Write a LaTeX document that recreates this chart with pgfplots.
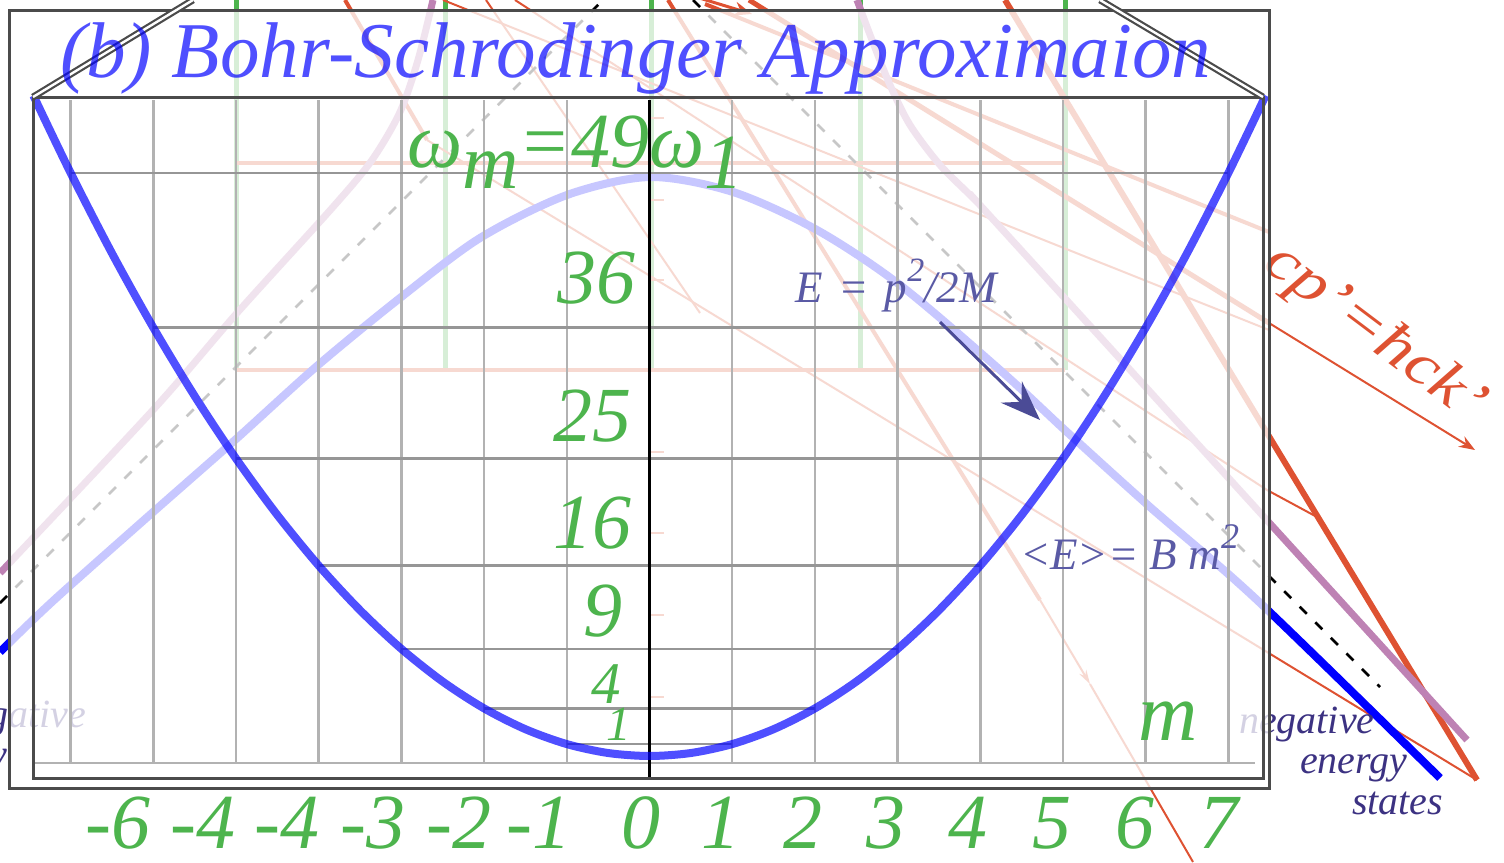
\documentclass[border=0pt]{standalone}
\usepackage{pgfplots}
\pgfplotsset{compat=1.18}
\usepackage{fontspec}
\setmainfont{Liberation Serif}[ItalicFont={Liberation Serif Italic}]
\usetikzlibrary{arrows.meta}

\definecolor{grn}{RGB}{77,180,77}
\definecolor{rd}{RGB}{222,82,50}
\definecolor{prp}{RGB}{190,130,180}
\definecolor{slate}{RGB}{90,90,165}
\definecolor{arr}{RGB}{75,75,150}
\definecolor{navy}{RGB}{60,50,130}
\definecolor{frm}{RGB}{75,75,75}
\definecolor{gridv}{RGB}{178,178,178}
\definecolor{gridh}{RGB}{150,150,150}

% sheet coordinates: 1 unit = 0.5pt, origin top left
\pgfplotsset{
  sheet/.style={width=752pt,height=431pt,scale only axis,
    xmin=0,xmax=1504,ymin=0,ymax=862,y dir=reverse,hide axis},
}

\begin{document}
\begin{tikzpicture}
% ---------- background construction lines (veiled by the frame) ----------
\begin{axis}[sheet,name=A]
  % green verticals and pale red levels
  \foreach \xx in {236,445,651,860,1065}{
    \edef\tmp{\noexpand\addplot[grn,line width=2.5pt] coordinates {(\xx,0) (\xx,370)};}\tmp
  }
  \addplot[rd,line width=2pt] coordinates {(236,163) (1065,163)};
  \addplot[rd,line width=2pt] coordinates {(236,370) (1065,370)};
  \foreach \yy in {118,200,280,452,533,615,697}{
    \edef\tmp{\noexpand\addplot[rd,line width=1pt] coordinates {(651,\yy) (664,\yy)};}\tmp
  }
  % red rays
  \addplot[rd,line width=3pt] coordinates {(1005,0) (1477,780)};
  \addplot[rd,line width=2pt] coordinates {(345,0) (427,140)};
  \addplot[rd,line width=1pt] coordinates {(427,140) (1477,780)};
  \addplot[rd,line width=1pt] coordinates {(486,0) (700,313)};
  \addplot[rd,line width=2pt] coordinates {(668,0) (1040,600)};
  \addplot[rd,line width=1pt,-{Stealth[length=7pt,width=4pt]}] coordinates {(1040,600) (1090,684)};
  \addplot[rd,line width=1pt] coordinates {(1090,684) (1193,862)};
  \addplot[rd,line width=2.5pt] coordinates {(749,0) (1269,323)};
  \addplot[rd,line width=1pt,-{Stealth[length=8pt,width=6pt]}] coordinates {(1269,323) (1475,450)};
  \addplot[rd,line width=1pt] coordinates {(443,0) (1269,330)};
  \addplot[rd,line width=2pt] coordinates {(705,4) (1197,203) (1269,232)};
  \addplot[rd,line width=1pt] coordinates {(515,0) (1267,490) (1317,517)};
  \addplot[rd,line width=1.5pt,-{Stealth[length=9pt,width=7pt]}] coordinates {(640,-20) (752,14)};
  % black dashed asymptotes
  \addplot[black,line width=1.25pt,dash pattern=on 5pt off 6pt] coordinates {(0,603) (603,0)};
  \addplot[black,line width=1.25pt,dash pattern=on 5pt off 6pt] coordinates {(693,0) (1380,687)};
  % purple branches
  \addplot[prp,line width=3.5pt,smooth] coordinates {(0,573) (153,410) (237,313) (333,207) (372,160) (400,112) (418,60) (433,0)};
  \addplot[prp,line width=3.5pt,smooth] coordinates {(857,0) (872,40) (890,85) (910,125) (940,165) (975,200) (1010,238) (1467,740)};
  % blue dispersion curve
  \addplot[blue,line width=4pt,smooth] coordinates {(0,652) (53,601) (152,513) (235,440) (317,366) (400,298) (480,238) (567,195) (650,177) (733,192) (817,230) (900,285) (1000,370) (1067,432) (1150,507) (1257,600) (1440,778)};
  % labels on the veiled layer
  \node[rd,rotate=-37,font=\fontsize{30}{33}\selectfont\itshape,xscale=1.18] at (1374,334) {cp'=ħck'};
  \node[navy,anchor=base west,font=\fontsize{20}{24}\selectfont\itshape] at (1232,733) {negative};
  \node[navy,anchor=base west,font=\fontsize{20}{24}\selectfont\itshape] at (1293,773) {energy};
  \node[navy,anchor=base west,font=\fontsize{20}{24}\selectfont\itshape] at (1345,814) {states};
  \node[navy,anchor=base east,font=\fontsize{20}{24}\selectfont\itshape] at (93,727) {negative};
  \node[navy,anchor=base east,font=\fontsize{20}{24}\selectfont\itshape] at (14,767) {energy};
  % white veil over the framed region
  \addplot[draw=none,fill=white,fill opacity=0.78] coordinates {(9,10) (1269,10) (1269,788) (9,788)} -- cycle;
\end{axis}

% ---------- energy levels E = m^2 ----------
\begin{axis}[width=752pt,height=431pt,scale only axis,
  xmin=-7.8537,xmax=10.3325,ymin=-8.9076,ymax=63.5294,hide axis]
  \foreach \k in {-7,-6,-5,-4,-3,-2,-1,1,2,3,4,5,6,7}{
    \edef\tmp{\noexpand\addplot[gridv,line width=1.25pt] coordinates {(\k,-0.59) (\k,55.1)};}\tmp
  }
  \addplot[gridh,line width=1.25pt] coordinates {(-1,1) (1,1)};
  \addplot[gridh,line width=1.25pt] coordinates {(-2,4) (2,4)};
  \addplot[gridh,line width=1.25pt] coordinates {(-3,9) (3,9)};
  \addplot[gridh,line width=1.25pt] coordinates {(-4,16) (4,16)};
  \addplot[gridh,line width=1.25pt] coordinates {(-5,25) (5,25)};
  \addplot[gridh,line width=1.25pt] coordinates {(-6,36) (6,36)};
  \addplot[gridh,line width=1.25pt] coordinates {(-7,49) (7,49)};
  \addplot[gridv,line width=1pt] coordinates {(-7.43,-0.59) (7.32,-0.59)};
  \addplot[black,line width=1.25pt] coordinates {(0,-1.85) (0,55.1)};
  % <E> = B m^2
  \addplot[blue,opacity=0.69,line width=4pt,smooth] coordinates {
    (-7.45,55.50) (-7,49) (-6.5,42.25) (-6,36) (-5.5,30.25) (-5,25) (-4.5,20.25)
    (-4,16) (-3.5,12.25) (-3,9) (-2.5,6.25) (-2,4) (-1.5,2.25) (-1,1) (-0.5,0.25)
    (0,0) (0.5,0.25) (1,1) (1.5,2.25) (2,4) (2.5,6.25) (3,9) (3.5,12.25) (4,16)
    (4.5,20.25) (5,25) (5.5,30.25) (6,36) (6.5,42.25) (7,49) (7.45,55.50)};
\end{axis}

% ---------- frame, titles and annotations ----------
\begin{axis}[sheet]
  \addplot[frm,line width=1.5pt] coordinates {(9,10) (1269,10) (1269,788) (9,788)} -- cycle;
  \addplot[frm,line width=1.5pt] coordinates {(33,97) (1263,97) (1263,778) (33,778)} -- cycle;
  \addplot[frm,line width=1.1pt,double=white,double distance=1.2pt] coordinates {(33,97) (193,0)};
  \addplot[frm,line width=1.1pt,double=white,double distance=1.2pt] coordinates {(1263,97) (1100,0)};
  \node[blue,text opacity=0.69,anchor=base west,font=\fontsize{39.5}{44}\selectfont\itshape] at (53,77) {(b) Bohr-Schrodinger Approximaion};
  \node[grn,anchor=base west,font=\fontsize{39}{44}\selectfont\itshape] at (400,167) {ω\raisebox{-0.27em}{m}=49ω\raisebox{-0.27em}{1}};
  \node[grn,anchor=base east,font=\fontsize{39}{44}\selectfont\itshape] at (643,303) {36};
  \node[grn,anchor=base east,font=\fontsize{39}{44}\selectfont\itshape] at (639,441) {25};
  \node[grn,anchor=base east,font=\fontsize{39}{44}\selectfont\itshape] at (639,548) {16};
  \node[grn,anchor=base east,font=\fontsize{39}{44}\selectfont\itshape] at (630,636) {9};
  \node[grn,anchor=base east,font=\fontsize{29.5}{34}\selectfont\itshape] at (628,703) {4};
  \node[grn,anchor=base east,font=\fontsize{24.5}{28}\selectfont\itshape] at (638,740) {1};
  \node[grn,anchor=base west,font=\fontsize{41}{46}\selectfont\itshape] at (1131,740) {m};
  \foreach \px/\lab in {118/-6,203/-4,287/-4,373/-3,459/-2,539/-1,641/0,721/1,803/2,886/3,968/4,1052/5,1135/6,1219/7}{
    \edef\tmp{\noexpand\node[grn,anchor=base,font=\noexpand\fontsize{39}{44}\noexpand\selectfont\noexpand\itshape] at (\px,848) {\lab};}\tmp
  }
  \node[slate,anchor=base west,font=\fontsize{22.5}{26}\selectfont\itshape] at (788,302) {E\hspace{8pt}=\hspace{8pt}p\raisebox{0.45em}{\fontsize{17}{20}\selectfont 2}/2M};
  \node[slate,anchor=base west,font=\fontsize{22.5}{26}\selectfont\itshape] at (1013,569) {<E>= B m\raisebox{0.45em}{\fontsize{18}{20}\selectfont 2}};
  \addplot[arr,line width=1.5pt,-{Stealth[length=20pt,width=15pt,inset=7pt]}] coordinates {(940,322) (1040,420)};
\end{axis}
\pgfresetboundingbox
\useasboundingbox (A.south west) rectangle (A.north east);
\end{tikzpicture}
\end{document}
